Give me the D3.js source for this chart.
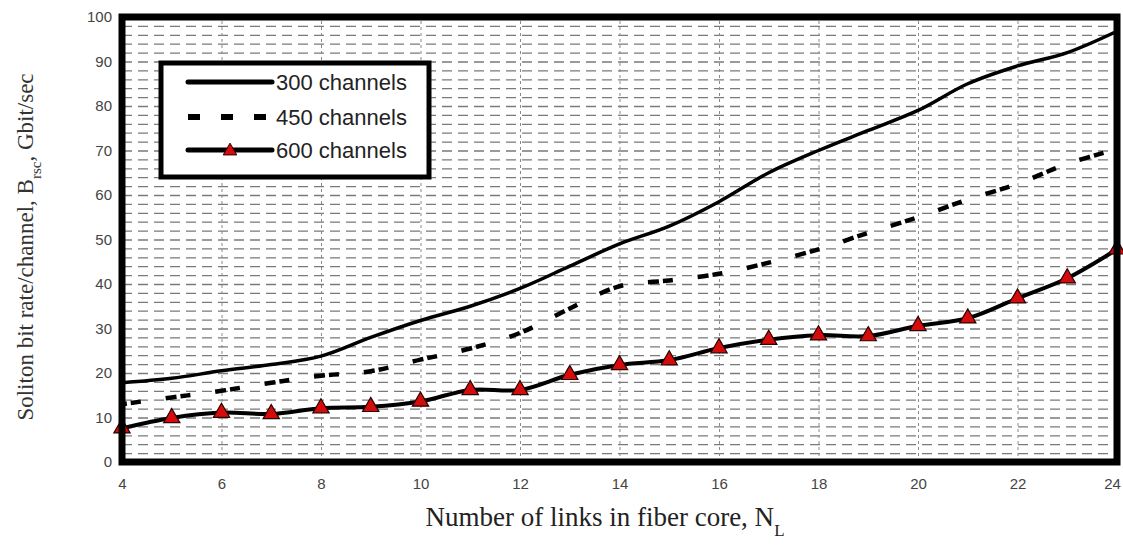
<!DOCTYPE html>
<html>
<head>
<meta charset="utf-8">
<script src="https://cdnjs.cloudflare.com/ajax/libs/d3/7.8.5/d3.min.js"></script>
<style>
  body { margin: 0; background: #fff; }
  svg { display: block; }
</style>
</head>
<body>
<svg id="chart" width="1123" height="546"></svg>
<script>
// datos
var nLinks = [4, 5, 6, 7, 8, 9, 10, 11, 12, 13, 14, 15, 16, 17, 18, 19, 20, 21, 22, 23, 24];
var ch300 = [17.8, 18.8, 20.5, 21.9, 23.8, 28, 31.8, 35, 39, 44, 49, 53, 58.5, 65, 70, 74.5, 79, 85, 89, 92, 96.8];
var ch450 = [13, 14.5, 16, 17.8, 19.4, 20.4, 23, 25.5, 29, 34.5, 39.5, 40.8, 42.3, 44.8, 47.8, 51.5, 55, 59, 62.5, 67, 70.3];
var ch600 = [7.6, 9.9, 11.1, 10.8, 12.1, 12.4, 13.6, 16.2, 16.2, 19.6, 21.8, 22.9, 25.6, 27.5, 28.5, 28.3, 30.6, 32.3, 36.8, 41.3, 47.8];
var seriesNames = ["300 channels", "450 channels", "600 channels"];
var xTicks = [4, 6, 8, 10, 12, 14, 16, 18, 20, 22, 24];
var yTicks = [0, 10, 20, 30, 40, 50, 60, 70, 80, 90, 100];

var _izq = 122, _der = 1117, _sup = 17, _inf = 462;
var _rojo = "#d50c0c";

var svg = d3.select("#chart");

var x = d3.scaleLinear().domain([4, 24]).range([_izq, _der]);
var y = d3.scaleLinear().domain([0, 100]).range([_inf, _sup]);

// rejilla horizontal cada 2 unidades
var gY = svg.append("g")
  .attr("transform", "translate(" + _izq + ",0)")
  .call(d3.axisLeft(y).tickValues(y.ticks(50)).tickSize(-(_der - _izq)).tickFormat(""));
gY.select(".domain").remove();
gY.selectAll("line")
  .attr("stroke", "#7a7a7a")
  .attr("stroke-width", 1.3)
  .attr("stroke-dasharray", "10,6");

// rejilla vertical en los pares
var gX = svg.append("g")
  .attr("transform", "translate(0," + _inf + ")")
  .call(d3.axisBottom(x).tickValues(xTicks.slice(1, -1)).tickSize(-(_inf - _sup)).tickFormat(""));
gX.select(".domain").remove();
gX.selectAll("line")
  .attr("stroke", "#8a8a8a")
  .attr("stroke-width", 1)
  .attr("stroke-dasharray", "3,3");

// etiquetas de los ejes
var axY = svg.append("g")
  .attr("transform", "translate(" + _izq + ",0)")
  .call(d3.axisLeft(y).tickValues(yTicks).tickSize(0).tickPadding(10));
axY.select(".domain").remove();
axY.selectAll("text")
  .attr("font-family", "'Liberation Sans', Arial, sans-serif")
  .attr("font-size", 15)
  .attr("fill", "#444");

var axX = svg.append("g")
  .attr("transform", "translate(0," + _inf + ")")
  .call(d3.axisBottom(x).tickValues(xTicks).tickSize(0).tickPadding(16));
axX.select(".domain").remove();
axX.selectAll("text")
  .attr("font-family", "'Liberation Sans', Arial, sans-serif")
  .attr("font-size", 15)
  .attr("fill", "#444");
// el 24 queda pegado al borde derecho
axX.selectAll("text").filter(function (d) { return d == 24; }).attr("dx", -5);

// curvas
var linea = function (serie) {
  return d3.line()
    .x(function (d, i) { return x(nLinks[i]); })
    .y(function (d) { return y(d); })
    .curve(d3.curveCatmullRom.alpha(0.5))(serie);
};

svg.append("path")
  .attr("d", linea(ch300))
  .attr("fill", "none")
  .attr("stroke", "#000")
  .attr("stroke-width", 3.5);

svg.append("path")
  .attr("d", linea(ch450))
  .attr("fill", "none")
  .attr("stroke", "#000")
  .attr("stroke-width", 4.5)
  .attr("stroke-dasharray", "11,4,10,25")
  .attr("stroke-dashoffset", 6);

svg.append("path")
  .attr("d", linea(ch600))
  .attr("fill", "none")
  .attr("stroke", "#000")
  .attr("stroke-width", 4);

var tri = d3.symbol().type(d3.symbolTriangle).size(115);
svg.append("g").selectAll("path")
  .data(ch600)
  .enter()
  .append("path")
  .attr("d", tri)
  .attr("transform", function (d, i) { return "translate(" + x(nLinks[i]) + "," + y(d) + ")"; })
  .attr("fill", _rojo)
  .attr("stroke", "#2a0000")
  .attr("stroke-width", 1.2);

// marco grueso
svg.append("rect")
  .attr("x", _izq)
  .attr("y", _sup)
  .attr("width", _der - _izq)
  .attr("height", _inf - _sup)
  .attr("fill", "none")
  .attr("stroke", "#000")
  .attr("stroke-width", 7);

// leyenda
var leyenda = svg.append("g");
leyenda.append("rect")
  .attr("x", 161)
  .attr("y", 63)
  .attr("width", 268)
  .attr("height", 114)
  .attr("fill", "#fff")
  .attr("stroke", "#000")
  .attr("stroke-width", 5);

var filas = [82, 117, 150];
var dashes = [null, "12,21", null];
var grosor = [5, 6, 5];
seriesNames.forEach(function (nombre, i) {
  var l = leyenda.append("line")
    .attr("x1", 188).attr("x2", 272)
    .attr("y1", filas[i]).attr("y2", filas[i])
    .attr("stroke", "#000")
    .attr("stroke-width", grosor[i])
    .attr("stroke-linecap", i == 1 ? "butt" : "round");
  if (dashes[i]) l.attr("stroke-dasharray", dashes[i]);
  leyenda.append("text")
    .attr("x", 276)
    .attr("y", filas[i])
    .attr("dy", "0.36em")
    .attr("font-family", "'Liberation Sans', Arial, sans-serif")
    .attr("font-size", 22)
    .attr("fill", "#222")
    .text(nombre);
});
leyenda.append("path")
  .attr("d", d3.symbol().type(d3.symbolTriangle).size(80))
  .attr("transform", "translate(230," + (filas[2] + 1) + ")")
  .attr("fill", _rojo)
  .attr("stroke", "#2a0000")
  .attr("stroke-width", 1);

// titulos
var tY = svg.append("text")
  .attr("transform", "translate(33,247) rotate(-90)")
  .attr("text-anchor", "middle")
  .attr("font-family", "'Liberation Serif', 'Times New Roman', serif")
  .attr("font-size", 23)
  .attr("fill", "#333");
tY.append("tspan").text("Soliton bit rate/channel, B");
tY.append("tspan").attr("font-size", 15).attr("baseline-shift", "sub").text("rsc");
tY.append("tspan").text(", Gbit/sec");

var tX = svg.append("text")
  .attr("x", 605)
  .attr("y", 526)
  .attr("text-anchor", "middle")
  .attr("font-family", "'Liberation Serif', 'Times New Roman', serif")
  .attr("font-size", 27)
  .attr("fill", "#222");
tX.append("tspan").text("Number of links in fiber core, N");
tX.append("tspan").attr("font-size", 17).attr("baseline-shift", "sub").text("L");
</script>
</body>
</html>
